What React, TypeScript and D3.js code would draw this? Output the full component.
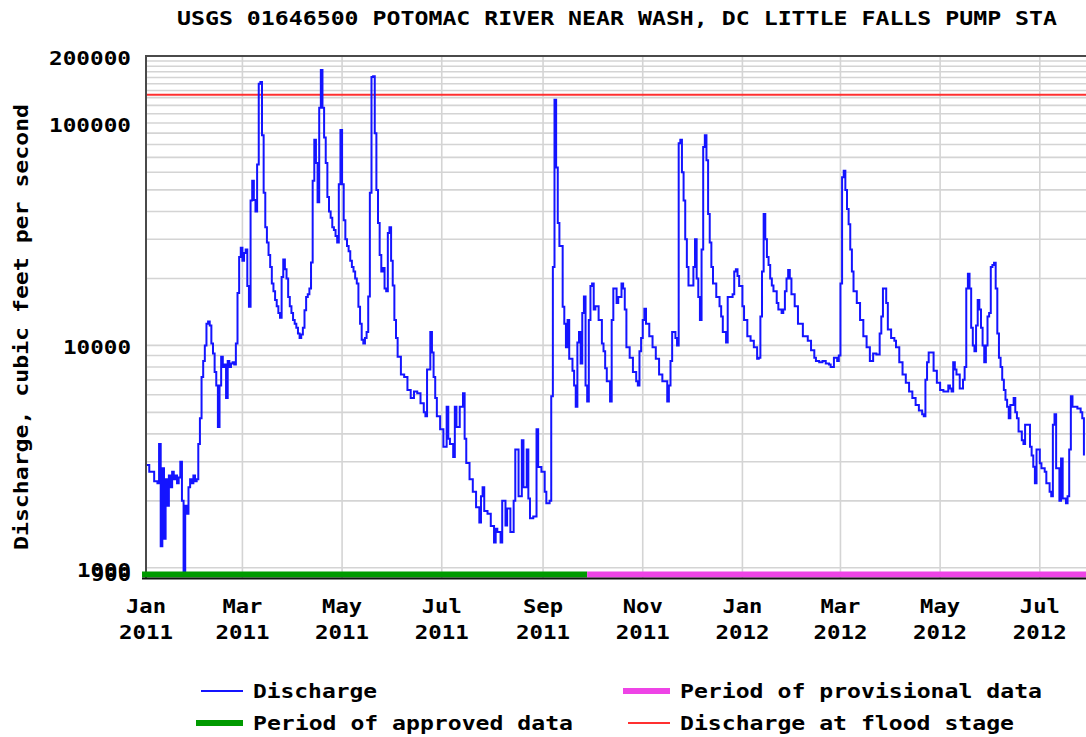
import React, { useEffect, useRef } from 'react';
import * as d3 from 'd3';

const chartTitle = 'USGS 01646500 POTOMAC RIVER NEAR WASH, DC LITTLE FALLS PUMP STA';
const yAxisTitle = 'Discharge, cubic feet per second';

// daily discharge readings: [day of month, cubic feet per second]
const jan2011 = [[1,2900],[3,2700],[6,2450],[8,2400],[9,3600],[10,1250],[11,2800],[12,1350],[13,2500],[14,1900],[15,2600],[16,2300],[17,2700],[18,2500],[19,2600],[20,2400],[21,2550],[22,3000],[23,2000],[24,950],[25,1900],[26,1750],[27,2300],[28,2500],[29,2400],[30,2600],[31,2450]];
const feb2011 = [[1,2500],[2,3600],[3,4700],[4,7200],[5,8500],[6,10000],[7,12500],[8,12800],[9,12300],[10,10200],[11,9200],[12,7600],[13,6600],[14,4300],[15,6600],[16,8900],[17,8000],[18,8200],[19,5800],[20,8500],[21,8000],[22,8300],[23,8400],[24,8200],[25,10200],[26,17200],[27,25000],[28,27500]];
const mar2011 = [[1,24000],[2,26000],[3,27000],[4,18500],[5,14900],[6,44800],[7,55000],[8,45000],[9,40000],[10,65000],[11,150000],[12,153000],[13,88000],[14,48500],[15,34000],[16,29000],[17,25500],[18,22500],[19,19000],[20,17500],[21,16000],[22,15000],[23,14000],[24,13300],[25,20300],[26,24300],[27,22000],[28,20000],[29,16500],[30,15000],[31,14000]];
const apr2011 = [[1,13000],[2,12500],[3,12000],[4,11300],[5,10800],[6,11200],[7,12000],[8,14400],[9,16500],[10,17000],[11,18000],[12,23600],[13,55000],[14,84000],[15,66000],[16,44000],[17,117000],[18,173000],[19,117000],[20,86000],[21,66000],[22,46500],[23,40000],[24,37500],[25,34000],[26,33000],[27,31000],[28,29000],[29,53000],[30,93000]];
const may2011 = [[1,53000],[2,36500],[3,30000],[4,28000],[5,26500],[6,24000],[7,22500],[8,21500],[9,20000],[10,19000],[11,14900],[12,12500],[13,10600],[14,10200],[15,10800],[16,11500],[17,16600],[18,48500],[19,161000],[20,162000],[21,90000],[22,50000],[23,35500],[24,25500],[25,21500],[26,22300],[27,18000],[28,17500],[29,32000],[30,34000],[31,24000]];
const jun2011 = [[1,18600],[2,13000],[3,10800],[4,8900],[6,7400],[8,7200],[10,6300],[12,5800],[14,6200],[16,6100],[18,5500],[20,5000],[21,4800],[22,7800],[24,11500],[25,9300],[26,7200],[27,5800],[28,4800],[30,4200]];
const jul2011 = [[2,3500],[4,5300],[5,3800],[6,3600],[8,3150],[9,5300],[10,4300],[12,5300],[14,6100],[15,3800],[16,2960],[18,2500],[20,2200],[22,1870],[24,1600],[25,2100],[26,2300],[27,1800],[29,1750],[31,1540]];
const aug2011 = [[2,1300],[3,1500],[4,1450],[6,1300],[7,2000],[9,1550],[10,1850],[12,1450],[14,2000],[15,3400],[17,2100],[19,3750],[20,2300],[22,3400],[23,2050],[24,1670],[26,1700],[28,4200],[29,2840],[31,2700]];
const sep2011 = [[2,2200],[3,1950],[5,2000],[6,5900],[7,22500],[8,127000],[9,63000],[10,35500],[11,28000],[13,14900],[14,12500],[15,9800],[16,13000],[17,8700],[19,7700],[20,6600],[21,5300],[22,10300],[23,11500],[24,8300],[25,14000],[26,16600],[27,6600],[28,5600],[29,13000],[30,18500]];
const oct2011 = [[1,19000],[2,14500],[3,15000],[5,13000],[6,13000],[7,10200],[8,9400],[9,7900],[10,6900],[12,5600],[13,13000],[14,18000],[16,15500],[17,16500],[18,16500],[19,19000],[20,18000],[21,14500],[22,9800],[24,8800],[26,7600],[28,6900],[29,6600],[30,9400],[31,10800]];
const nov2011 = [[1,13000],[2,14600],[3,12500],[5,11000],[7,9800],[9,8700],[11,7400],[13,6900],[16,5600],[17,6600],[18,8500],[19,11500],[21,10800],[22,10000],[23,81000],[24,84000],[25,60000],[26,44800],[27,30000],[28,22500],[29,18600]];
const dec2011 = [[1,18600],[2,22500],[3,30000],[4,20000],[5,16500],[6,13000],[7,27000],[8,78000],[9,88000],[10,68000],[11,39000],[12,29000],[13,22500],[14,19000],[16,16500],[18,15000],[19,13500],[20,11500],[22,10300],[23,16500],[25,16500],[26,17000],[27,21500],[28,22000],[29,20500],[30,18500]];
const jan2012 = [[1,15000],[2,13000],[4,11000],[6,10500],[8,9800],[10,8700],[11,8800],[12,13500],[13,21500],[14,39000],[15,30000],[16,25000],[17,23000],[18,20000],[19,18600],[20,17500],[22,15500],[23,14500],[25,14000],[26,14500],[27,17500],[28,20000],[29,21800],[30,20000],[31,17000]];
const feb2012 = [[2,15000],[4,12500],[7,11000],[10,10500],[12,9500],[14,8800],[15,8500],[17,8400],[19,8500],[21,8300],[23,8200],[24,8000],[26,8800],[28,8500],[29,9000]];
const mar2012 = [[1,19000],[2,57000],[3,61000],[4,50000],[5,41000],[6,35000],[7,27000],[8,21500],[9,17500],[11,15500],[13,13000],[15,11000],[17,9800],[19,8500],[21,9200],[23,9100],[25,11300],[26,13500],[27,18000],[28,18000],[29,15500],[30,11800]];
const apr2012 = [[1,10800],[3,10500],[4,9800],[6,8400],[8,7400],[10,6800],[12,6200],[14,5800],[16,5400],[18,5100],[20,4900],[21,4800],[22,7000],[23,8400],[24,9300],[26,9300],[27,7700],[29,6800]];
const may2012 = [[1,6300],[3,6200],[5,6200],[6,6600],[7,6400],[8,6200],[9,8400],[10,7800],[11,7400],[13,6400],[15,7000],[16,8000],[17,18000],[18,21000],[19,18000],[20,12000],[21,10000],[22,9400],[23,12300],[24,16000],[25,14500],[26,12000],[27,10000],[28,8400],[29,10000],[30,13500],[31,14000]];
const jun2012 = [[1,22500],[2,23000],[3,23500],[4,18000],[5,11300],[6,8800],[7,8000],[8,7000],[9,6300],[10,5700],[11,5300],[12,4700],[13,5400],[15,5800],[16,5000],[17,4700],[18,4100],[20,3750],[21,3600],[22,4400],[24,4400],[25,3500],[26,3200],[27,2850],[28,2400],[29,3400]];
const jul2012 = [[1,2950],[2,2800],[4,2700],[5,2400],[7,2200],[8,2100],[9,4400],[10,4900],[11,2800],[13,2000],[14,3100],[15,2050],[17,1950],[18,2100],[19,3400],[20,5900],[21,5300],[24,5200],[26,5000],[27,4700],[28,3200]];

const monthlyReadings = [
  ['2011-01', jan2011], ['2011-02', feb2011], ['2011-03', mar2011], ['2011-04', apr2011],
  ['2011-05', may2011], ['2011-06', jun2011], ['2011-07', jul2011], ['2011-08', aug2011],
  ['2011-09', sep2011], ['2011-10', oct2011], ['2011-11', nov2011], ['2011-12', dec2011],
  ['2012-01', jan2012], ['2012-02', feb2012], ['2012-03', mar2012], ['2012-04', apr2012],
  ['2012-05', may2012], ['2012-06', jun2012], ['2012-07', jul2012],
];

const floodStage = 134000;
const recordStart = '2011-01-01';
const recordEnd = '2012-08-01';
const approvedUntil = '2011-09-28';

const yLabels = [200000, 100000, 10000, 1000, 900];
const xTickMonths = ['2011-01','2011-03','2011-05','2011-07','2011-09','2011-11','2012-01','2012-03','2012-05','2012-07'];
const monthNames = ['Jan','Feb','Mar','Apr','May','Jun','Jul','Aug','Sep','Oct','Nov','Dec'];

const legendItems = [
  { label: 'Discharge', color: '#1414ff', width: 2, col: 0, row: 0 },
  { label: 'Period of provisional data', color: '#ee44e6', width: 6, col: 1, row: 0 },
  { label: 'Period of approved data', color: '#009a00', width: 6, col: 0, row: 1 },
  { label: 'Discharge at flood stage', color: '#ff3030', width: 2, col: 1, row: 1 },
];

const parseDay = d3.utcParse('%Y-%m-%d');
const CHAR_W = 14;

/* monoText: appends a bold monospace label stretched to the chart's character width */
function monoText(g, str, x, y, anchor = 'start') {
  return g.append('text')
    .attr('x', x).attr('y', y)
    .attr('text-anchor', anchor)
    .attr('textLength', str.length * CHAR_W - 2)
    .attr('lengthAdjust', 'spacingAndGlyphs')
    .style('font-family', '"DejaVu Sans Mono", monospace')
    .style('font-weight', 'bold')
    .style('font-size', '19px')
    .attr('fill', '#000')
    .text(str);
}

function Hydrograph({ width, height }) {
  const ref = useRef(null);
  const plot = { left: 146, top: 56, bottom: 578 };

  useEffect(() => {
    const svg = d3.select(ref.current);
    svg.selectAll('*').remove();

    const series = [];
    monthlyReadings.forEach(([month, readings]) => {
      readings.forEach(([day, value]) => {
        series.push({ date: parseDay(`${month}-${String(day).padStart(2, '0')}`), value });
      });
    });

    const start = parseDay(recordStart);
    const end = parseDay(recordEnd);
    const pxPerDay = 1.634;
    const x = d3.scaleUtc()
      .domain([start, end])
      .range([plot.left, plot.left + d3.utcDay.count(start, end) * pxPerDay]);
    const y = d3.scaleLog().domain([900, 200000]).range([plot.bottom, plot.top]);
    const right = x.range()[1];

    // horizontal grid: every log minor step
    const gridValues = [
      ...d3.range(1000, 10000, 1000),
      ...d3.range(10000, 100000, 10000),
      ...d3.range(100000, 200001, 10000),
    ];
    svg.append('g').selectAll('line').data(gridValues).enter().append('line')
      .attr('x1', plot.left).attr('x2', right)
      .attr('y1', d => y(d)).attr('y2', d => y(d))
      .attr('stroke', '#d4d4d4').attr('stroke-width', 1.6);

    // vertical grid at labelled months
    const monthDates = xTickMonths.map(m => parseDay(`${m}-01`));
    svg.append('g').selectAll('line').data(monthDates).enter().append('line')
      .attr('x1', d => x(d)).attr('x2', d => x(d))
      .attr('y1', plot.top).attr('y2', plot.bottom)
      .attr('stroke', '#d4d4d4').attr('stroke-width', 1.6);

    // flood stage
    svg.append('line')
      .attr('x1', plot.left).attr('x2', right)
      .attr('y1', y(floodStage)).attr('y2', y(floodStage))
      .attr('stroke', '#ff3030').attr('stroke-width', 2);

    // discharge line
    svg.append('clipPath').attr('id', 'plot-clip').append('rect')
      .attr('x', plot.left).attr('y', plot.top)
      .attr('width', right - plot.left).attr('height', plot.bottom - plot.top);
    const line = d3.line()
      .x(d => x(d.date))
      .y(d => y(d.value))
      .curve(d3.curveStepAfter);
    svg.append('path')
      .datum(series)
      .attr('clip-path', 'url(#plot-clip)')
      .attr('d', line)
      .attr('fill', 'none')
      .attr('stroke', '#1414ff')
      .attr('stroke-width', 2);

    // frame
    svg.append('line').attr('x1', plot.left).attr('x2', plot.left).attr('y1', plot.top).attr('y2', plot.bottom)
      .attr('stroke', '#4a4a4a').attr('stroke-width', 2);
    svg.append('line').attr('x1', plot.left - 1).attr('x2', right).attr('y1', plot.top).attr('y2', plot.top)
      .attr('stroke', '#4a4a4a').attr('stroke-width', 2);

    // data approval periods along the bottom
    const approved = parseDay(approvedUntil);
    svg.append('line').attr('x1', plot.left - 4).attr('x2', x(approved))
      .attr('y1', plot.bottom - 3.5).attr('y2', plot.bottom - 3.5)
      .attr('stroke', '#009a00').attr('stroke-width', 6);
    svg.append('line').attr('x1', x(approved)).attr('x2', right)
      .attr('y1', plot.bottom - 3.5).attr('y2', plot.bottom - 3.5)
      .attr('stroke', '#ee44e6').attr('stroke-width', 6);
    svg.append('line').attr('x1', plot.left - 4).attr('x2', right)
      .attr('y1', plot.bottom + 0.5).attr('y2', plot.bottom + 0.5)
      .attr('stroke', '#111').attr('stroke-width', 2);

    // y labels (1000 and 900 sit on top of each other, as in the source plot)
    yLabels.forEach(v => {
      const base = v === 900 ? y(v) + 3 : y(v) + 9;
      monoText(svg, String(v), 131, base, 'end');
    });

    // x labels
    monthDates.forEach(d => {
      const cx = x(d);
      monoText(svg, monthNames[d.getUTCMonth()], cx, 613, 'middle');
      monoText(svg, String(d.getUTCFullYear()), cx, 639, 'middle');
    });

    // titles
    monoText(svg, chartTitle, 177, 25, 'start');
    const yt = svg.append('g').attr('transform', 'translate(28,327) rotate(-90)');
    monoText(yt, yAxisTitle, 0, 0, 'middle');

    // legend
    const legend = svg.append('g');
    legendItems.forEach(item => {
      const lx = item.col === 0 ? 243 : 670;
      const ly = item.row === 0 ? 691 : 723;
      const sw = item.width > 3 ? 47 : 42;
      legend.append('line')
        .attr('x1', lx - sw).attr('x2', lx)
        .attr('y1', ly).attr('y2', ly)
        .attr('stroke', item.color).attr('stroke-width', item.width);
      monoText(legend, item.label, lx + 10, ly + 7, 'start');
    });
  }, [width, height]);

  return (
    <svg ref={ref} width={width} height={height}
      style={{ position: 'absolute', left: 0, top: 0, background: '#fff' }} />
  );
}

export default function App() {
  return <Hydrograph width={1086} height={737} />;
}
